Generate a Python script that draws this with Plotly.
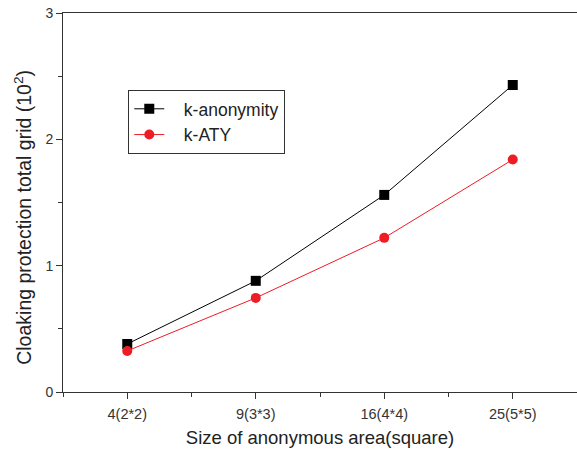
import plotly.graph_objects as go

categories = ["4(2*2)", "9(3*3)", "16(4*4)", "25(5*5)"]
k_anonymity = [0.38, 0.88, 1.56, 2.43]
k_aty = [0.325, 0.745, 1.22, 1.84]
y_ticks = [0, 1, 2, 3]

xpos = [1, 2, 3, 4]
NB = "\u00a0\u00a0\u00a0"

fig = go.Figure()
fig.add_trace(go.Scatter(
    x=xpos, y=k_anonymity, name=NB + "k-anonymity", mode="lines+markers",
    line=dict(color="black", width=1),
    marker=dict(symbol="square", size=10, color="black"),
))
fig.add_trace(go.Scatter(
    x=xpos, y=k_aty, name=NB + "k-ATY", mode="lines+markers",
    line=dict(color="#ee1c24", width=1),
    marker=dict(symbol="circle", size=10, color="#ee1c24"),
))

fig.update_layout(
    width=577, height=454,
    margin=dict(l=63, r=0, t=13, b=62, autoexpand=False),
    paper_bgcolor="white", plot_bgcolor="white",
    font=dict(family="Arial, Liberation Sans, sans-serif", color="#222"),
    showlegend=True,
    legend=dict(
        x=0.127, y=0.797, xanchor="left", yanchor="top",
        bordercolor="#333", borderwidth=1, bgcolor="white",
        font=dict(size=17.5, color="#222"),
        tracegroupgap=0,
    ),
    xaxis=dict(
        range=[0.5, 4.5], tickmode="array", tickvals=xpos, ticktext=categories,
        showgrid=False, zeroline=False, showline=True, linecolor="#333", linewidth=1,
        mirror=True, ticks="outside", ticklen=6, tickcolor="#333", automargin=False,
        tickfont=dict(size=14.5, color="#333"), ticklabelstandoff=3,
        ticklabeloverflow="allow",
        minor=dict(tickvals=[0.5, 1.5, 2.5, 3.5, 4.5], ticks="outside", ticklen=4, tickcolor="#333"),
        title=dict(text="Size of anonymous area(square)", font=dict(size=18.5, color="#222"), standoff=9),
    ),
    yaxis=dict(
        range=[0, 3], tickmode="array", tickvals=y_ticks,
        showgrid=False, zeroline=False, showline=True, linecolor="#333", linewidth=1,
        ticks="outside", ticklen=6, tickcolor="#333", automargin=False,
        tickfont=dict(size=14, color="#333"), ticklabeloverflow="allow",
        minor=dict(dtick=0.5, ticks="outside", ticklen=4, tickcolor="#333"),
    ),
    annotations=[dict(
        text="Cloaking protection total grid (10<sup>2</sup>)",
        xref="paper", yref="paper", x=-0.078, y=0.462,
        xanchor="center", yanchor="middle", textangle=-90, showarrow=False,
        font=dict(size=19.5, color="#222"),
    )],
)

fig.write_html("out.html", config={"displayModeBar": False},
               post_script="document.body.style.margin='0';")
